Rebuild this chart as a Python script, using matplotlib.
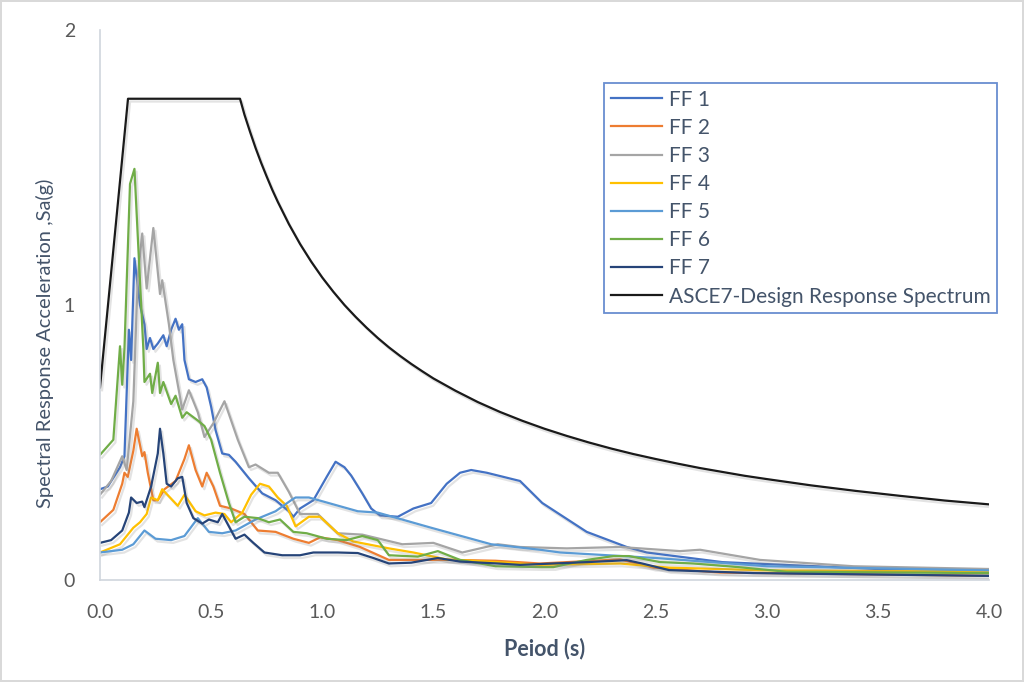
import matplotlib
matplotlib.use("Agg")
import matplotlib.pyplot as plt
import matplotlib.patheffects as pe

# ---- data ----
t_ff1 = [0, 0.035, 0.09, 0.11, 0.13, 0.14, 0.155, 0.18, 0.2, 0.21, 0.225, 0.24, 0.26, 0.285, 0.3,
         0.32, 0.34, 0.355, 0.37, 0.38, 0.4, 0.43, 0.46, 0.48, 0.5, 0.52, 0.55, 0.58, 0.61, 0.67,
         0.73, 0.79, 0.85, 0.87, 0.9, 0.96, 1.02, 1.06, 1.1, 1.13, 1.18, 1.22, 1.26, 1.34, 1.41,
         1.49, 1.56, 1.62, 1.67, 1.74, 1.89, 1.99, 2.19, 2.37, 2.46, 2.8, 3.5, 4.0]
sa_ff1 = [0.33, 0.34, 0.41, 0.45, 0.91, 0.8, 1.17, 1.0, 0.93, 0.84, 0.88, 0.84, 0.86, 0.89, 0.85,
          0.91, 0.95, 0.91, 0.93, 0.8, 0.73, 0.72, 0.73, 0.7, 0.63, 0.545, 0.46, 0.455, 0.43, 0.37,
          0.315, 0.29, 0.25, 0.23, 0.26, 0.29, 0.375, 0.43, 0.41, 0.38, 0.315, 0.26, 0.235, 0.23, 0.26,
          0.28, 0.35, 0.39, 0.40, 0.39, 0.36, 0.28, 0.175, 0.12, 0.10, 0.065, 0.04, 0.035]

t_ff2 = [0, 0.06, 0.1, 0.11, 0.125, 0.15, 0.165, 0.19, 0.2, 0.215, 0.24, 0.26, 0.29, 0.34, 0.38,
         0.4, 0.43, 0.46, 0.48, 0.51, 0.54, 0.59, 0.65, 0.71, 0.79, 0.87, 0.94, 0.99, 1.07, 1.17,
         1.3, 1.44, 1.59, 1.78, 1.98, 2.34, 2.49, 2.79, 3.5, 4.0]
sa_ff2 = [0.21, 0.255, 0.35, 0.39, 0.375, 0.47, 0.55, 0.45, 0.465, 0.39, 0.29, 0.29, 0.33, 0.36, 0.44,
          0.49, 0.4, 0.34, 0.39, 0.34, 0.27, 0.26, 0.24, 0.18, 0.175, 0.15, 0.135, 0.155, 0.145, 0.12,
          0.073, 0.073, 0.073, 0.07, 0.06, 0.075, 0.045, 0.027, 0.02, 0.015]

t_ff3 = [0, 0.05, 0.1, 0.12, 0.15, 0.17, 0.19, 0.21, 0.24, 0.27, 0.28, 0.31, 0.33, 0.35, 0.37,
         0.4, 0.44, 0.47, 0.51, 0.56, 0.62, 0.67, 0.7, 0.76, 0.8, 0.85, 0.9, 0.98, 1.07, 1.18,
         1.36, 1.5, 1.63, 1.79, 1.89, 2.1, 2.34, 2.61, 2.7, 2.97, 3.39, 4.0]
sa_ff3 = [0.31, 0.36, 0.45, 0.4, 0.65, 1.1, 1.26, 1.06, 1.28, 1.04, 1.09, 0.93, 0.8, 0.71, 0.62,
          0.69, 0.61, 0.52, 0.57, 0.65, 0.51, 0.41, 0.42, 0.39, 0.39, 0.32, 0.24, 0.24, 0.17, 0.165,
          0.13, 0.135, 0.1, 0.13, 0.12, 0.115, 0.12, 0.105, 0.11, 0.073, 0.05, 0.04]

t_ff4 = [0, 0.09, 0.13, 0.15, 0.18, 0.21, 0.23, 0.26, 0.28, 0.315, 0.35, 0.38, 0.43, 0.47, 0.52,
         0.56, 0.59, 0.64, 0.68, 0.72, 0.76, 0.8, 0.84, 0.88, 0.94, 0.99, 1.07, 1.14, 1.3, 1.41,
         1.56, 1.79, 1.98, 2.34, 2.56, 3.0, 4.0]
sa_ff4 = [0.1, 0.13, 0.17, 0.19, 0.21, 0.24, 0.3, 0.29, 0.33, 0.3, 0.27, 0.31, 0.25, 0.235, 0.245,
          0.24, 0.21, 0.245, 0.31, 0.35, 0.34, 0.3, 0.27, 0.195, 0.23, 0.23, 0.17, 0.14, 0.115, 0.1,
          0.075, 0.065, 0.055, 0.06, 0.045, 0.035, 0.03]

t_ff5 = [0, 0.1, 0.15, 0.2, 0.25, 0.32, 0.38, 0.44, 0.49, 0.55, 0.61, 0.7, 0.79, 0.86, 0.88,
         0.94, 1.16, 1.25, 1.49, 1.76, 1.98, 2.07, 2.5, 3.0, 4.0]
sa_ff5 = [0.1, 0.11, 0.13, 0.18, 0.15, 0.145, 0.16, 0.225, 0.175, 0.17, 0.18, 0.22, 0.25, 0.29, 0.30,
          0.30, 0.25, 0.245, 0.19, 0.13, 0.11, 0.1, 0.08, 0.05, 0.035]

t_ff6 = [0, 0.06, 0.075, 0.09, 0.1, 0.11, 0.135, 0.155, 0.195, 0.2, 0.225, 0.235, 0.26, 0.27, 0.285,
         0.32, 0.34, 0.37, 0.39, 0.44, 0.47, 0.5, 0.54, 0.58, 0.61, 0.65, 0.71, 0.76, 0.81, 0.87,
         0.93, 1.02, 1.11, 1.18, 1.25, 1.3, 1.43, 1.52, 1.62, 1.78, 1.98, 2.04, 2.19, 2.31, 2.38,
         2.52, 2.67, 2.87, 3.09, 4.0]
sa_ff6 = [0.455, 0.51, 0.68, 0.85, 0.71, 0.84, 1.44, 1.495, 0.84, 0.72, 0.75, 0.68, 0.79, 0.68, 0.72,
          0.64, 0.67, 0.59, 0.61, 0.58, 0.56, 0.51, 0.39, 0.28, 0.21, 0.23, 0.225, 0.21, 0.22, 0.175,
          0.17, 0.15, 0.145, 0.16, 0.145, 0.09, 0.085, 0.105, 0.073, 0.05, 0.047, 0.047, 0.073, 0.087, 0.087,
          0.065, 0.06, 0.047, 0.03, 0.025]

t_ff7 = [0, 0.05, 0.1, 0.13, 0.14, 0.165, 0.19, 0.2, 0.23, 0.26, 0.27, 0.285, 0.3, 0.32, 0.35,
         0.37, 0.39, 0.42, 0.46, 0.49, 0.53, 0.55, 0.58, 0.61, 0.65, 0.69, 0.74, 0.82, 0.9, 0.96,
         1.07, 1.16, 1.23, 1.3, 1.4, 1.52, 1.62, 1.79, 1.89, 2.19, 2.37, 2.44, 2.56, 2.94, 4.0]
sa_ff7 = [0.135, 0.145, 0.18, 0.245, 0.3, 0.28, 0.285, 0.265, 0.34, 0.46, 0.55, 0.46, 0.35, 0.34, 0.37,
          0.375, 0.28, 0.225, 0.205, 0.22, 0.21, 0.24, 0.195, 0.15, 0.165, 0.135, 0.1, 0.09, 0.09, 0.1,
          0.1, 0.098, 0.08, 0.06, 0.063, 0.08, 0.067, 0.06, 0.055, 0.065, 0.072, 0.06, 0.036, 0.025, 0.015]

# ASCE7 design spectrum, read at a set of periods
t_asce = [0, 0.126, 0.63, 0.65, 0.675, 0.7, 0.725, 0.75, 0.775, 0.8, 0.85, 0.9, 0.95, 1.0, 1.05,
          1.1, 1.15, 1.2, 1.25, 1.3, 1.35, 1.4, 1.45, 1.5, 1.6, 1.7, 1.8, 1.9, 2.0, 2.1, 2.2, 2.3,
          2.4, 2.5, 2.6, 2.7, 2.8, 2.9, 3.0, 3.2, 3.4, 3.6, 3.8, 4.0]
sa_asce = [0.7, 1.75, 1.75, 1.692, 1.630, 1.571, 1.517, 1.467, 1.419, 1.375, 1.294, 1.222, 1.158,
           1.10, 1.048, 1.0, 0.957, 0.917, 0.88, 0.846, 0.815, 0.786, 0.759, 0.733, 0.688, 0.647,
           0.611, 0.579, 0.55, 0.524, 0.5, 0.478, 0.458, 0.44, 0.423, 0.407, 0.393, 0.379, 0.367,
           0.344, 0.324, 0.306, 0.289, 0.275]

labels = ["FF 1", "FF 2", "FF 3", "FF 4", "FF 5", "FF 6", "FF 7", "ASCE7-Design Response Spectrum"]
colors = ["#4472C4", "#ED7D31", "#A5A5A5", "#FFC000", "#5B9BD5", "#70AD47", "#264478", "#1A1A1A"]
series = [(t_ff1, sa_ff1), (t_ff2, sa_ff2), (t_ff3, sa_ff3), (t_ff4, sa_ff4),
          (t_ff5, sa_ff5), (t_ff6, sa_ff6), (t_ff7, sa_ff7), (t_asce, sa_asce)]

plt.rcParams['font.family'] = ['Lato', 'DejaVu Sans']

fig = plt.figure(figsize=(10.24, 6.82), dpi=100)
fig.patch.set_edgecolor('#D9D9D9')
fig.patch.set_linewidth(1.5)
ax = fig.add_axes([100 / 1024, 1 - 580 / 682, 889 / 1024, 550 / 682])

shadow = [pe.SimpleLineShadow(offset=(1.5, -2), shadow_color='#808080', alpha=0.22), pe.Normal()]
for (t, sa), lab, col in zip(series, labels, colors):
    ax.plot(t, sa, color=col, lw=1.6, label=lab, path_effects=shadow)

ax.set_xlim(0, 4)
ax.set_ylim(0, 2)
ax.set_xticks([0, 0.5, 1.0, 1.5, 2.0, 2.5, 3.0, 3.5, 4.0])
ax.set_xticklabels(['0.0', '0.5', '1.0', '1.5', '2.0', '2.5', '3.0', '3.5', '4.0'])
ax.set_yticks([0, 1, 2])
ax.tick_params(axis='both', length=0, labelsize=14, labelcolor='#595959')
ax.tick_params(axis='x', pad=17)
ax.tick_params(axis='y', pad=18)
for s in ['top', 'right']:
    ax.spines[s].set_visible(False)
for s in ['left', 'bottom']:
    ax.spines[s].set_color('#D0D5DD')
    ax.spines[s].set_linewidth(1.2)

ax.set_xlabel('Peiod (s)', fontsize=15.5, fontweight='bold', color='#44546A', labelpad=12)
ax.set_ylabel('Spectral Response Acceleration ,Sa(g)', fontsize=14.5, color='#44546A')
ax.yaxis.set_label_coords(-0.052, 0.43)

leg = ax.legend(loc='upper left', bbox_to_anchor=(604 / 1024, 1 - 83 / 682),
                bbox_transform=fig.transFigure, fontsize=15, frameon=True, fancybox=False,
                handlelength=2.45, labelspacing=0.39, borderpad=0.32, handletextpad=0.34,
                borderaxespad=0)
leg.get_frame().set_edgecolor('#4472C4')
leg.get_frame().set_linewidth(1.3)
for txt in leg.get_texts():
    txt.set_color('#44546A')
for line in leg.get_lines():
    line.set_path_effects([])
    line.set_linewidth(1.6)

fig.savefig('out.png', dpi=100)
